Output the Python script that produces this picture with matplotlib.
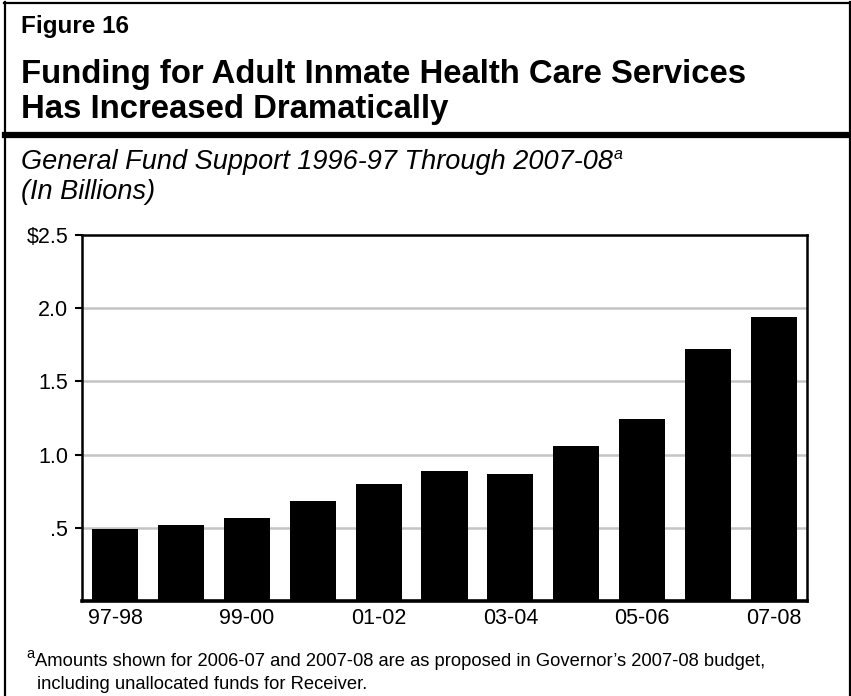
import matplotlib
matplotlib.use("Agg")
import matplotlib.pyplot as plt
from matplotlib.lines import Line2D

# General Fund support, billions of dollars
years = ["97-98", "98-99", "99-00", "00-01", "01-02", "02-03",
         "03-04", "04-05", "05-06", "06-07", "07-08"]
funding = [0.49, 0.52, 0.57, 0.68, 0.80, 0.89, 0.87, 1.06, 1.24, 1.72, 1.94]
y_ticks = [0.5, 1.0, 1.5, 2.0, 2.5]
y_tick_labels = [".5", "1.0", "1.5", "2.0", "$2.5"]

plt.rcParams["font.family"] = ["Liberation Sans", "DejaVu Sans"]

W, H = 851, 696
fig = plt.figure(figsize=(W / 100, H / 100), dpi=100)


def fx(px):
    return px / W


def fy(py):
    return 1 - py / H


# frame around the whole figure, plus the heavy rule under the title
fig.add_artist(Line2D([fx(5), fx(5)], [fy(2), fy(696)], color="black", lw=1.6))
fig.add_artist(Line2D([fx(850), fx(850)], [fy(2), fy(696)], color="black", lw=1.6))
fig.add_artist(Line2D([fx(4), fx(851)], [fy(3), fy(3)], color="black", lw=1.6))
fig.add_artist(Line2D([fx(5), fx(850)], [fy(135), fy(135)], color="black", lw=4.5))

fig.text(fx(21), fy(33), "Figure 16", fontsize=17.5, fontweight="bold", va="baseline")
fig.text(fx(21), fy(83), "Funding for Adult Inmate Health Care Services",
         fontsize=23.7, fontweight="bold", va="baseline")
fig.text(fx(21), fy(118), "Has Increased Dramatically",
         fontsize=23.7, fontweight="bold", va="baseline")

sub = fig.text(fx(21), fy(169), "General Fund Support 1996-97 Through 2007-08",
               fontsize=19.5, style="italic", va="baseline")
fig.text(fx(21), fy(199), "(In Billions)", fontsize=19.5, style="italic", va="baseline")

fig.text(fx(26), fy(658), "a", fontsize=10.5, va="baseline")
fig.text(fx(35), fy(666),
         "Amounts shown for 2006-07 and 2007-08 are as proposed in Governor\u2019s 2007-08 budget,",
         fontsize=13.2, va="baseline")
fig.text(fx(37), fy(689), "including unallocated funds for Receiver.",
         fontsize=13.2, va="baseline")

ax = fig.add_axes([fx(82), fy(601), (807 - 82) / W, (601 - 235) / H])
x = list(range(len(years)))
ax.bar(x, funding, width=0.7, color="black", zorder=3)
ax.set_xlim(-0.5, len(years) - 0.5)
ax.set_ylim(0, 2.5)

ax.set_yticks(y_ticks)
ax.set_yticklabels(y_tick_labels, fontsize=15.5)
ax.set_xticks(x[::2])
ax.set_xticklabels(years[::2], fontsize=15.5)
ax.tick_params(axis="y", direction="out", length=5, width=1.5, pad=5)
ax.tick_params(axis="x", length=0, pad=5)

for yv in y_ticks[:-1]:
    ax.axhline(yv, color="#c4c4c4", lw=1.8, zorder=1)

for side in ["left", "right", "top"]:
    ax.spines[side].set_linewidth(1.8)
ax.spines["bottom"].set_linewidth(2.6)

# superscript after the subtitle
fig.canvas.draw()
bb = sub.get_window_extent()
fig.text(bb.x1 / W + fx(1), fy(159), "a", fontsize=11.5, style="italic", va="baseline")

fig.savefig("out.png", dpi=100)
